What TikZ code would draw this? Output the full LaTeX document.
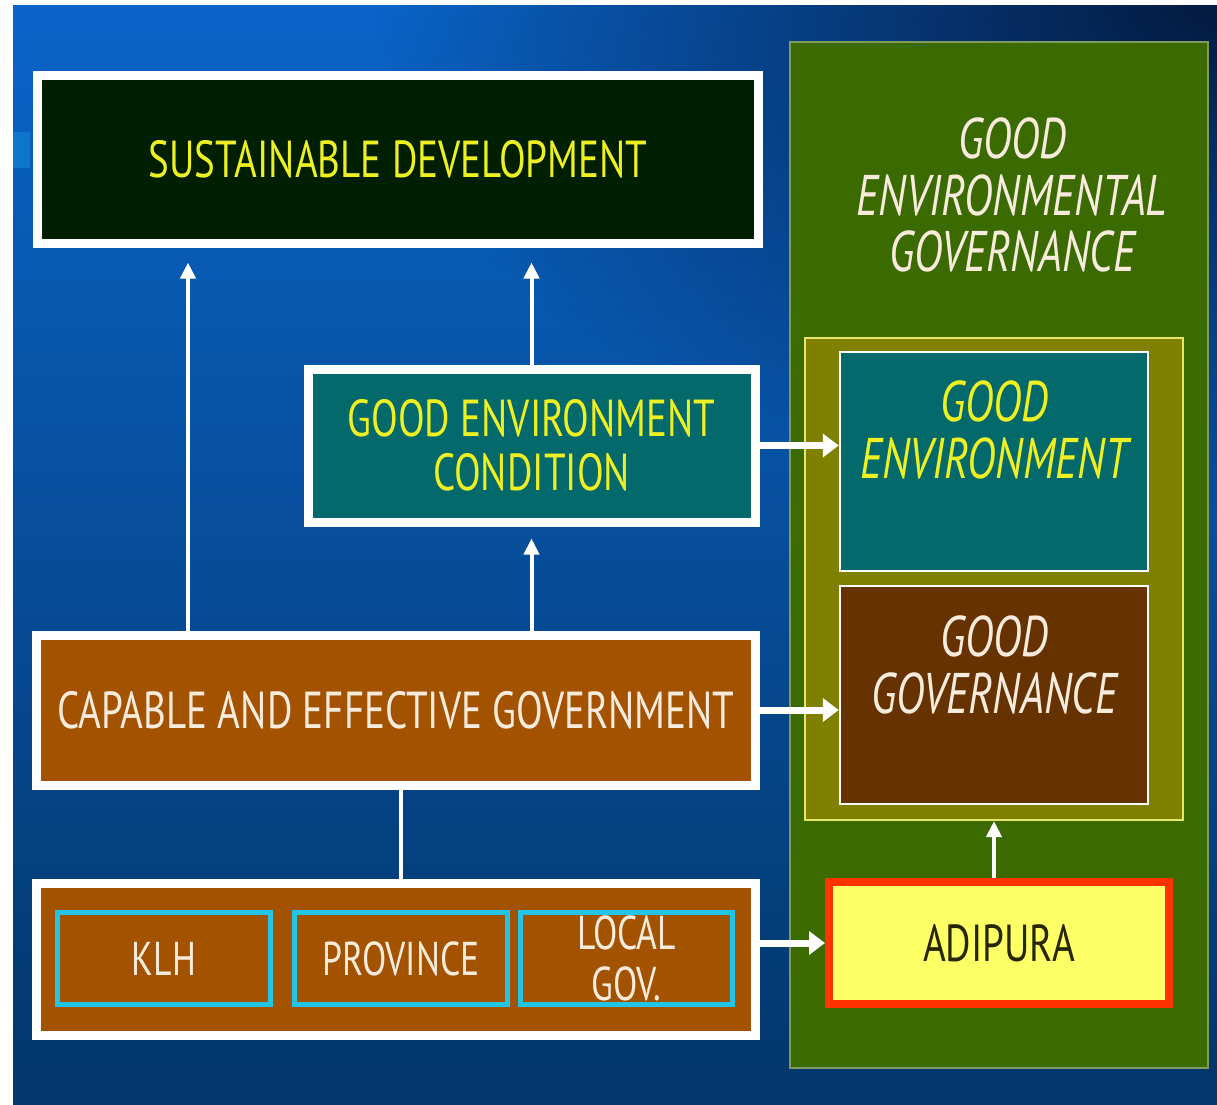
\documentclass[tikz,border=0pt]{standalone}
\usepackage{fontspec}
\usepackage{tikz}
\usetikzlibrary{arrows.meta, positioning, calc, fadings}

\newfontfamily\boxfont[FakeStretch=0.75]{PT Sans}

\definecolor{bgtop}{HTML}{0A64C8}
\definecolor{bgbottom}{HTML}{03366A}
\definecolor{bgdark}{HTML}{041A40}
\definecolor{sdfill}{HTML}{001F00}
\definecolor{tealfill}{HTML}{03696A}
\definecolor{govfill}{HTML}{A35200}
\definecolor{ggfill}{HTML}{663300}
\definecolor{greenfill}{HTML}{3B6A00}
\definecolor{greenline}{HTML}{7E9A5C}
\definecolor{olivefill}{HTML}{808000}
\definecolor{oliveline}{HTML}{E6E66A}
\definecolor{cyanline}{HTML}{22C4E8}
\definecolor{redline}{HTML}{FF3300}
\definecolor{adifill}{HTML}{FFFF66}
\definecolor{txtyellow}{HTML}{EEF022}
\definecolor{txtcream}{HTML}{F7EBDD}
\definecolor{txtdark}{HTML}{262600}

\tikzfading[name=corner fade, inner color=transparent!0, outer color=transparent!100]

\begin{document}
\begin{tikzpicture}[
        x=0.1mm, y=-0.1mm,
        boxtext/.style={font=\boxfont\fontsize{14.8}{15.5}\selectfont, align=center},
        subtext/.style={font=\boxfont\fontsize{13.5}{14.5}\selectfont, align=center},
        itext/.style={font=\boxfont\itshape\fontsize{16.3}{16}\selectfont, align=center},
        whitebox/.style={draw=white, line width=0.9mm, inner sep=0pt, boxtext},
        subbox/.style={draw=cyanline, line width=0.5mm, fill=govfill, text=txtcream,
                minimum width=21.3mm, minimum height=9.2mm, inner sep=0pt, subtext},
        panel/.style={draw=white, line width=0.25mm, minimum width=30.8mm, inner sep=0pt},
        uparrow/.style={draw=white, line width=0.4mm, -{Triangle[length=1.6mm, width=1.5mm]}},
        sidearrow/.style={draw=white, line width=0.7mm, -{Triangle[length=1.6mm, width=2.3mm]}}
        ]
        % page and background
        \fill[white] (0,0) rectangle (1217,1104);
        \useasboundingbox (0,0) rectangle (1217,1104);
        \shade[top color=bgtop, bottom color=bgbottom] (13,5) rectangle (1217,1104);
        \begin{scope}
                \clip (13,5) rectangle (1217,1104);
                \fill[bgdark, path fading=corner fade] (1217,5) ellipse [x radius=84mm, y radius=50mm];
        \end{scope}
        \fill[cyan!70!blue, opacity=0.6] (13,132) rectangle (30,168);

        % right column
        \node [draw=greenline, line width=0.25mm, fill=greenfill, minimum width=41.8mm,
                minimum height=102.6mm, inner sep=0pt,
                label={[itext, text=txtcream, anchor=north, xshift=1.3mm, yshift=-6.5mm]north:GOOD\\ENVIRONMENTAL\\GOVERNANCE}]
                (geg) at (999,555) {};
        \node [draw=oliveline, line width=0.2mm, fill=olivefill, minimum width=37.8mm,
                minimum height=48.2mm, inner sep=0pt] (olive) at (994,579) {};
        \node [panel, fill=tealfill, minimum height=21.9mm,
                label={[itext, text=txtyellow, anchor=north, yshift=-1.8mm]north:GOOD\\ENVIRONMENT}]
                (ge) at (994,461.5) {};
        \node [panel, fill=ggfill, minimum height=21.8mm,
                label={[itext, text=txtcream, anchor=north, yshift=-1.9mm]north:GOOD\\GOVERNANCE}]
                (gg) at (994,695) {};
        \node [draw=redline, line width=0.8mm, fill=adifill, text=txtdark, minimum width=34mm,
                minimum height=12.2mm, inner sep=0pt, boxtext] (adipura) at (999,943) {ADIPURA};

        % left column
        \node [whitebox, fill=sdfill, text=txtyellow, minimum width=72.1mm, minimum height=16.8mm]
                (sd) at (398,159) {SUSTAINABLE DEVELOPMENT};
        \node [whitebox, fill=tealfill, text=txtyellow, minimum width=44.7mm, minimum height=15.3mm]
                (gec) at (531.5,445.5) {GOOD ENVIRONMENT\\CONDITION};
        \node [whitebox, fill=govfill, text=txtcream, minimum width=71.9mm, minimum height=15mm]
                (caeg) at (396,710) {CAPABLE AND EFFECTIVE GOVERNMENT};
        \node [whitebox, fill=govfill, minimum width=71.9mm, minimum height=15.2mm]
                (inst) at (396,959) {};
        \node [subbox] (klh) at (164,958.5) {KLH};
        \node [subbox] (prov) at (401,958.5) {PROVINCE};
        \node [subbox, minimum width=21.2mm] (lgov) at (626.5,958.5) {LOCAL\\GOV.};

        % connectors
        \coordinate (leftx) at (188,0);
        \draw [uparrow, shorten >=1.5mm] (caeg.north -| leftx) -- (sd.south -| leftx);
        \draw [uparrow, shorten >=1.5mm] (gec.north) -- (sd.south -| gec.north);
        \draw [uparrow, shorten >=1.2mm] (caeg.north -| gec.south) -- (gec.south);
        \draw [draw=white, line width=0.4mm] (inst.north -| prov.north) -- (caeg.south -| prov.north);
        \draw [sidearrow] (gec.east) -- (gec.east -| ge.west);
        \draw [sidearrow] (caeg.east) -- (caeg.east -| gg.west);
        \draw [sidearrow] (adipura.west -| inst.east) -- (adipura.west);
        \draw [uparrow] (olive.south |- adipura.north) -- (olive.south);
\end{tikzpicture}
\end{document}
